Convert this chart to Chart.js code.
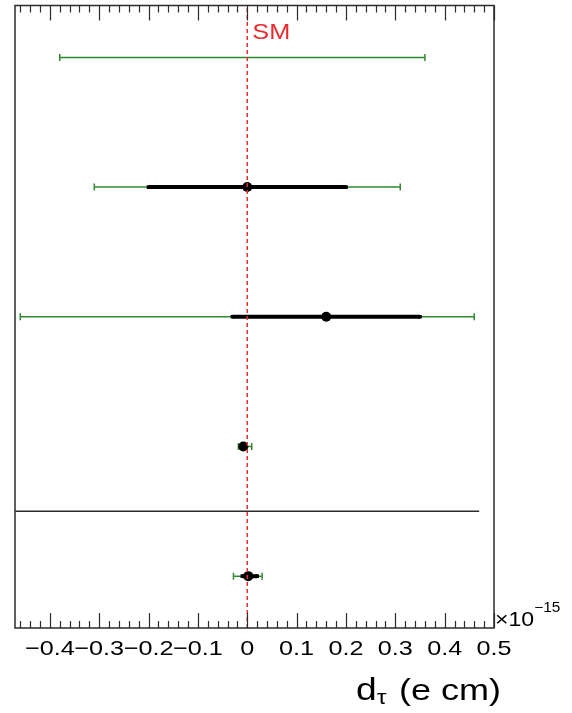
<!DOCTYPE html>
<html>
<head>
<meta charset="utf-8">
<script src="https://cdn.jsdelivr.net/npm/chart.js@4/dist/chart.umd.min.js"></script>
<style>
  html, body { margin: 0; padding: 0; background: #fff; }
  #wrap { width: 572px; height: 713px; }
</style>
</head>
<body>
<div id="wrap"><canvas id="c" width="572" height="713"></canvas></div>
<script>
// Row positions on the vertical axis (top row = 5, bottom row = 1)
const rowPos = [5, 4, 3, 2, 1];
// Central values (null = no point drawn)
const central = [null, 0.0, 0.16, -0.008, 0.002];
// Inner (thick black) intervals
const innerLo = [null, -0.20, -0.03, null, -0.010];
const innerHi = [null, 0.20, 0.35, null, 0.020];
// Outer (thin green) intervals
const outerLo = [-0.38, -0.31, -0.46, -0.018, -0.028];
const outerHi = [0.36, 0.31, 0.46, 0.009, 0.030];
// Standard Model reference value
const smValue = 0;
// Horizontal separator between the upper block and the last row
const separatorY = 1.5;
const separatorX = [-0.47, 0.47];
// Axis ranges
const xRange = [-0.4707, 0.5];
const yRange = [0.6, 5.4];
// Tick positions
const majorTicks = [-0.4, -0.3, -0.2, -0.1, 0, 0.1, 0.2, 0.3, 0.4, 0.5];
const minorStep = 0.02;

const GREEN = '#2f8a2f';
const RED = '#ea2a2e';
const FRAME = '#2b2b2b';
const FONT = "'Liberation Sans', Arial, sans-serif";
// horizontal widening applied to the Helvetica-like labels
const TEXT_SX = 1.2;

const datasets = [];

// SM dashed line (drawn on top)
datasets.push({
  data: [{x: smValue, y: yRange[0]}, {x: smValue, y: yRange[1]}],
  borderColor: RED, borderWidth: 1.5, borderDash: [4, 3],
  pointRadius: 0, showLine: true, order: 0
});

// Central points
central.forEach((v, i) => {
  if (v === null) return;
  datasets.push({
    data: [{x: v, y: rowPos[i]}],
    pointRadius: 5, pointBackgroundColor: '#000', pointBorderColor: '#000',
    pointBorderWidth: 0, showLine: false, order: 1
  });
});

// Inner intervals
innerLo.forEach((lo, i) => {
  if (lo === null) return;
  datasets.push({
    data: [{x: lo, y: rowPos[i]}, {x: innerHi[i], y: rowPos[i]}],
    borderColor: '#000', borderWidth: 4, showLine: true,
    pointStyle: 'rect', pointRadius: 2.6, pointBackgroundColor: '#000',
    pointBorderColor: '#000', pointBorderWidth: 0, order: 2
  });
});

// Outer intervals with end caps
outerLo.forEach((lo, i) => {
  datasets.push({
    data: [{x: lo, y: rowPos[i]}, {x: outerHi[i], y: rowPos[i]}],
    borderColor: GREEN, borderWidth: 1.5, showLine: true,
    pointStyle: 'line', rotation: 90, pointRadius: 3.5,
    pointBorderColor: GREEN, pointBorderWidth: 1.5, order: 3
  });
});

// Separator line
datasets.push({
  data: [{x: separatorX[0], y: separatorY}, {x: separatorX[1], y: separatorY}],
  borderColor: FRAME, borderWidth: 1.5, pointRadius: 0, showLine: true, order: 4
});

function fmtTick(v) {
  const r = Math.round(v * 10) / 10;
  if (r === 0) return '0';
  return (r < 0 ? '\u2212' : '') + Math.abs(r).toFixed(1);
}

// text drawn with a horizontal stretch; returns the drawn width
function drawText(ctx, str, x, y, size, align, sx, color) {
  ctx.save();
  ctx.font = size + 'px ' + FONT;
  ctx.fillStyle = color || '#000';
  ctx.textBaseline = 'alphabetic';
  ctx.textAlign = align;
  ctx.translate(x, y);
  ctx.scale(sx, 1);
  ctx.fillText(str, 0, 0);
  const w = ctx.measureText(str).width * sx;
  ctx.restore();
  return w;
}

// Frame, inward ticks, tick labels and extra text
const framePlugin = {
  id: 'frame',
  afterDraw(chart) {
    const ctx = chart.ctx;
    const a = chart.chartArea;
    const xs = chart.scales.x;
    ctx.save();
    ctx.strokeStyle = FRAME;
    ctx.lineWidth = 1.5;
    ctx.strokeRect(a.left, a.top, a.right - a.left, a.bottom - a.top);

    // ticks pointing into the plot
    ctx.lineWidth = 1.2;
    ctx.beginPath();
    const n0 = Math.ceil(xRange[0] / minorStep);
    const n1 = Math.floor(xRange[1] / minorStep);
    for (let k = n0; k <= n1; k++) {
      const v = k * minorStep;
      const isMajor = (k % 5) === 0;
      const len = isMajor ? 15 : 7;
      const px = Math.round(xs.getPixelForValue(v)) + 0.5;
      ctx.moveTo(px, a.top);
      ctx.lineTo(px, a.top + len);
      ctx.moveTo(px, a.bottom);
      ctx.lineTo(px, a.bottom - len);
    }
    ctx.stroke();
    ctx.restore();

    // tick labels
    majorTicks.forEach(v => {
      drawText(ctx, fmtTick(v), xs.getPixelForValue(v), a.bottom + 27, 21, 'center', TEXT_SX);
    });

    // SM label
    drawText(ctx, 'SM', xs.getPixelForValue(smValue) + 5, 39, 22, 'left', 1.15, RED);

    // exponent
    const w = drawText(ctx, '\u00d710', a.right + 1, 626, 21, 'left', 1.1);
    drawText(ctx, '\u221215', a.right + 1 + w, 612, 14, 'left', 1.1);

    // axis title
    drawText(ctx, 'd', 356, 700, 31, 'left', TEXT_SX);
    drawText(ctx, '\u03c4', 377, 704, 20, 'left', TEXT_SX);
    drawText(ctx, '(e cm)', 501, 700, 30, 'right', TEXT_SX);
  }
};

new Chart(document.getElementById('c'), {
  type: 'scatter',
  data: { datasets },
  options: {
    responsive: false,
    animation: false,
    events: [],
    layout: { padding: { left: 15, top: 4, right: 78, bottom: 0 } },
    plugins: { legend: { display: false }, tooltip: { enabled: false } },
    scales: {
      x: {
        type: 'linear', min: xRange[0], max: xRange[1],
        afterBuildTicks: s => { s.ticks = majorTicks.map(v => ({ value: v })); },
        afterFit: s => { s.height = 85; },
        grid: { display: false, drawTicks: false },
        border: { display: false },
        ticks: { display: false }
      },
      y: {
        type: 'linear', min: yRange[0], max: yRange[1], display: false
      }
    }
  },
  plugins: [framePlugin]
});
</script>
</body>
</html>
